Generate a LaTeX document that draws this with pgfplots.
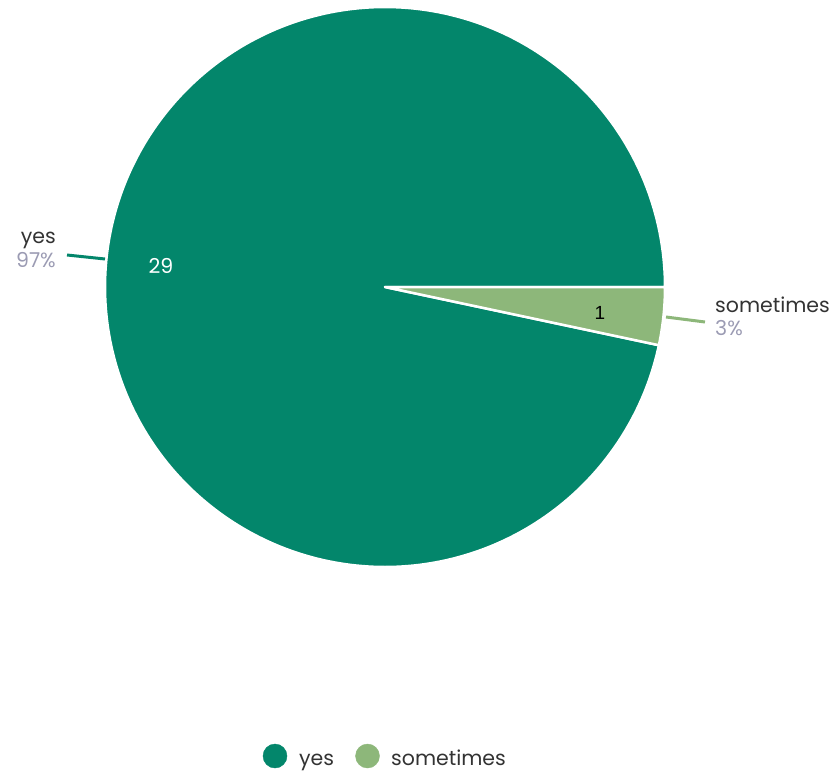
\documentclass[border=0pt]{standalone}
\usepackage{pgfplots}
\pgfplotsset{compat=1.18}
\usepackage{fontspec}
\setmainfont{Poppins}
\newfontfamily\arialf{Liberation Sans}
\definecolor{yescol}{HTML}{03866B}
\definecolor{somecol}{HTML}{8DB77A}
\definecolor{pctcol}{HTML}{9B9BB3}
\definecolor{txtcol}{HTML}{333333}
% values: yes = 29, sometimes = 1 (total 30)
\def\vyes{29}
\def\vsome{1}
\tikzset{lbl/.style={font=\fontsize{20.5}{24}\selectfont, inner sep=0pt}}
\begin{document}
\begin{tikzpicture}
\pgfmathsetmacro{\tot}{\vyes+\vsome}
\pgfmathsetmacro{\ayes}{360*\vyes/\tot}
\pgfmathsetmacro{\asome}{360*\vsome/\tot}
\begin{axis}[
  scale only axis, width=837pt, height=771pt,
  xmin=0, xmax=837, ymin=0, ymax=771, y dir=reverse,
  hide axis, clip=false,
]
\path (axis cs:0,0) (axis cs:837,771);
% yes slice
\addplot[fill=yescol, draw=white, line width=2.5pt, line join=round, domain=0:\ayes, samples=300, variable=\t]
  ({385+280*cos(\t)},{287-280*sin(\t)}) -- (axis cs:385,287) -- cycle;
% sometimes slice
\addplot[fill=somecol, draw=white, line width=2.5pt, line join=round, domain=-\asome:0, samples=30, variable=\t]
  ({385+280*cos(\t)},{287-280*sin(\t)}) -- (axis cs:385,287) -- cycle;
% leader lines
\addplot[yescol, line width=3pt] coordinates {(67,255) (105,259)};
\addplot[somecol, line width=3pt] coordinates {(666,317) (705,322)};
% labels
\node[lbl, anchor=base east, text=txtcol] at (axis cs:56,243) {yes};
\node[lbl, anchor=base east, text=pctcol] at (axis cs:56,267) {97\%};
\node[lbl, anchor=base west, text=txtcol] at (axis cs:715,312) {sometimes};
\node[lbl, anchor=base west, text=pctcol] at (axis cs:715,335) {3\%};
\node[lbl, anchor=base, text=white] at (axis cs:161,273) {29};
\node[lbl, anchor=base, text=black, font=\arialf\fontsize{19}{22}\selectfont] at (axis cs:600,319) {1};
% legend
\addplot[only marks, mark=*, mark size=12pt, mark options={draw=yescol, fill=yescol}] coordinates {(275,756)};
\addplot[only marks, mark=*, mark size=12pt, mark options={draw=somecol, fill=somecol}] coordinates {(367.5,756)};
\node[lbl, anchor=base west, text=txtcol] at (axis cs:299,765) {yes};
\node[lbl, anchor=base west, text=txtcol] at (axis cs:391,765) {sometimes};
\end{axis}
\end{tikzpicture}
\end{document}
